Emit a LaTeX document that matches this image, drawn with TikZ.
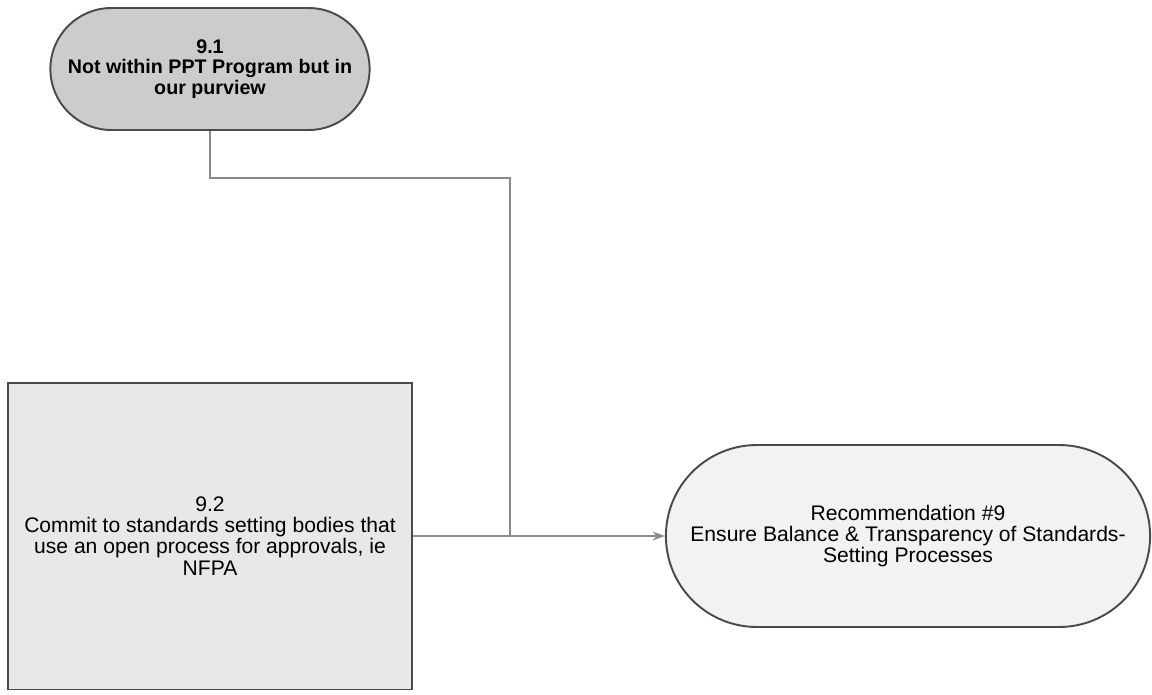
\documentclass[tikz,border=0pt]{standalone}
\usepackage{fontspec}
\setmainfont{Liberation Sans}
\usetikzlibrary{arrows.meta,positioning,shapes.misc}

\definecolor{edgegray}{HTML}{4A4A4A}
\definecolor{linegray}{HTML}{8A8A8A}
\tikzset{
	stadium/.style={rounded rectangle,draw=edgegray,line width=1.1pt,align=center,font=\fontsize{12}{12}\selectfont},
	boxnode/.style={rectangle,draw=edgegray,line width=1.1pt,align=center,font=\fontsize{12}{12}\selectfont},
	conn/.style={draw=linegray,line width=0.8pt}
}

\begin{document}
\begin{tikzpicture}[x=0.02cm,y=-0.02cm]
	\useasboundingbox (0,0) rectangle (1152,694);
	\node[stadium,fill=black!20,minimum width=6.62cm,minimum height=2.44cm,font=\fontsize{11.2}{11.5}\selectfont\bfseries] (sub_one) at (210,69) {9.1\\Not within PPT Program but in\\our purview};
	\node[boxnode,fill=black!9,minimum width=8.08cm,minimum height=6.14cm] (sub_two) at (210,536) {9.2\\Commit to standards setting bodies that\\use an open process for approvals, ie\\NFPA};
	\node[stadium,fill=black!5,minimum width=9.92cm,minimum height=3.64cm] (rec_nine) at (908,536) {Recommendation \#9\\Ensure Balance \& Transparency of Standards-\\Setting Processes};
	\coordinate (elbow) at (510,178);
	\coordinate (join) at (510,536);
	\draw[conn] (sub_one.south) |- (elbow) -- (join);
	\draw[conn,-{Stealth[length=7pt,width=5pt]}] (sub_two.east) -- (join) -- (rec_nine.west);
\end{tikzpicture}
\end{document}
